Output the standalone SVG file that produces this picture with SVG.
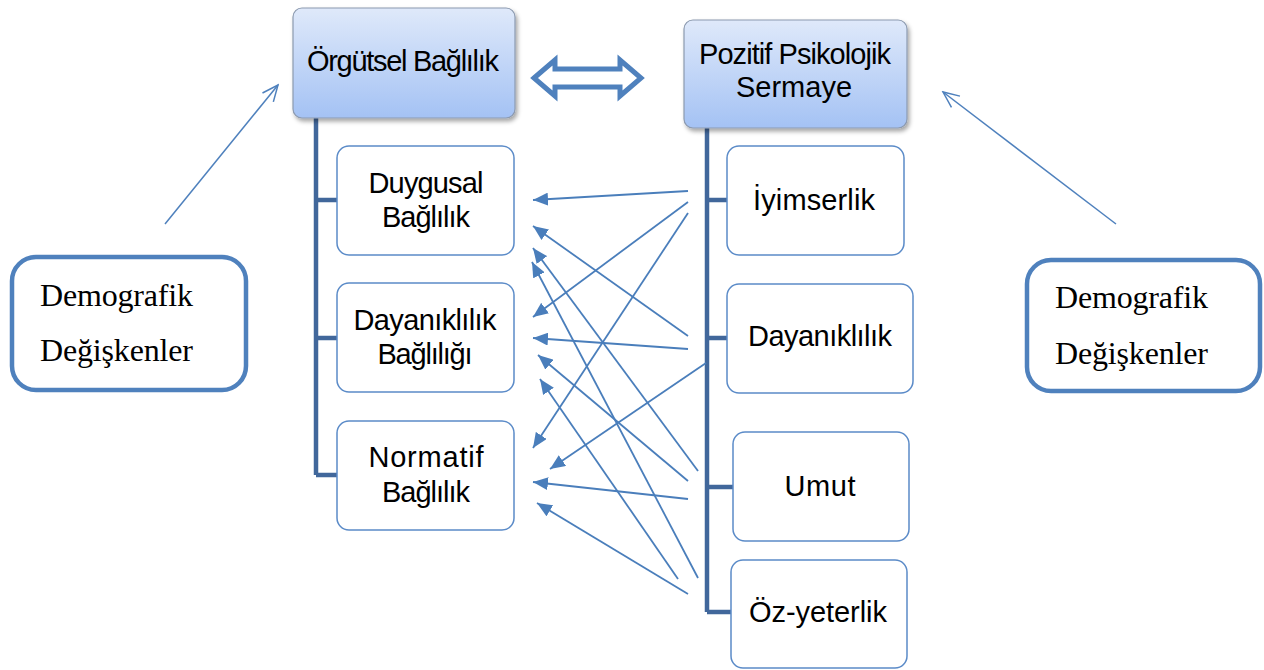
<svg xmlns="http://www.w3.org/2000/svg" width="1264" height="670" viewBox="0 0 1264 670">
<style>
.sans{font-family:"Liberation Sans",Arial,sans-serif;font-size:29px;fill:#000;text-anchor:middle}
.serif{font-family:"Liberation Serif","Times New Roman",serif;font-size:32px;fill:#000}
.child{fill:#fff;stroke:#5b8bc8;stroke-width:1.5}
.top{fill:url(#gTop);stroke:#8c9ab0;stroke-width:1.2}
.demo{fill:#fff;stroke:#4f81bd;stroke-width:4.5}
.tree{stroke:#41679b;stroke-width:4.5;fill:none}
.conn{stroke:#4a7ebb;stroke-width:1.8;fill:none;marker-end:url(#tri)}
.thin{stroke:#4f81bd;stroke-width:1.5;fill:none;marker-end:url(#open)}
</style>
<defs>
<linearGradient id="gTop" x1="0" y1="0" x2="0" y2="1">
<stop offset="0" stop-color="#dfe9fa"/>
<stop offset="1" stop-color="#a4c2f4"/>
</linearGradient>
<filter id="sh" x="-10%" y="-10%" width="125%" height="130%">
<feDropShadow dx="2" dy="3" stdDeviation="2" flood-color="#000" flood-opacity="0.35"/>
</filter>
<marker id="tri" markerUnits="userSpaceOnUse" markerWidth="16" markerHeight="13" refX="15" refY="6.5" orient="auto">
<path d="M0,0 L15,6.5 L0,13 z" fill="#4a7ebb"/>
</marker>
<marker id="open" markerUnits="userSpaceOnUse" markerWidth="20" markerHeight="18" refX="18" refY="9" orient="auto">
<path d="M2,2 L18,9 L2,16" fill="none" stroke="#4f81bd" stroke-width="1.5"/>
</marker>
</defs>

<g id="tree-lines">
<path class="tree" d="M316,118 V475 M316,200 H337 M316,338 H337 M316,475 H337"/>
<path class="tree" d="M707,128 V612 M707,200 H727 M707,338 H727 M707,487 H733 M707,612 H731"/>
</g>

<g id="orgutsel">
<rect class="top" x="293" y="8" width="222" height="110" rx="9" filter="url(#sh)"/>
<text class="sans" x="403" y="71" font-size="27" textLength="192">Örgütsel Bağlılık</text>
</g>
<g id="pozitif">
<rect class="top" x="684" y="20" width="223" height="108" rx="9" filter="url(#sh)"/>
<text class="sans" x="795" y="64" font-size="27" textLength="192">Pozitif Psikolojik</text>
<text class="sans" x="794" y="97" font-size="27">Sermaye</text>
</g>

<g id="duygusal">
<rect class="child" x="337" y="146" width="177" height="109" rx="12"/>
<text class="sans" x="426" y="193" textLength="115">Duygusal</text>
<text class="sans" x="426" y="227" textLength="88">Bağlılık</text>
</g>
<g id="dayaniklilik-b">
<rect class="child" x="337" y="283" width="177" height="109" rx="12"/>
<text class="sans" x="425" y="330" textLength="143">Dayanıklılık</text>
<text class="sans" x="425" y="364" textLength="95">Bağlılığı</text>
</g>
<g id="normatif">
<rect class="child" x="337" y="421" width="177" height="109" rx="12"/>
<text class="sans" x="426" y="467" textLength="115">Normatif</text>
<text class="sans" x="426" y="502" textLength="88">Bağlılık</text>
</g>

<g id="iyimserlik">
<rect class="child" x="727" y="146" width="177" height="109" rx="12"/>
<text class="sans" x="814" y="210" textLength="122">İyimserlik</text>
</g>
<g id="dayaniklilik">
<rect class="child" x="727" y="284" width="186" height="109" rx="12"/>
<text class="sans" x="820" y="346" textLength="144">Dayanıklılık</text>
</g>
<g id="umut">
<rect class="child" x="733" y="432" width="176" height="109" rx="12"/>
<text class="sans" x="820" y="496" textLength="71">Umut</text>
</g>
<g id="ozyeterlik">
<rect class="child" x="731" y="560" width="176" height="108" rx="12"/>
<text class="sans" x="818" y="622" textLength="138">Öz-yeterlik</text>
</g>

<g id="demo-left">
<rect class="demo" x="12" y="257" width="234" height="133" rx="24"/>
<text class="serif" x="40" y="306" textLength="153">Demografik</text>
<text class="serif" x="40" y="361" textLength="153">Değişkenler</text>
</g>
<g id="demo-right">
<rect class="demo" x="1027" y="260" width="233" height="131" rx="24"/>
<text class="serif" x="1055" y="308" textLength="153">Demografik</text>
<text class="serif" x="1055" y="364" textLength="153">Değişkenler</text>
</g>

<g id="connectors">
<polygon points="534,78 555,60 555,69 620,69 620,60 641,78 620,96 620,87 555,87 555,96" fill="#fff" stroke="#4f81bd" stroke-width="5" stroke-linejoin="miter"/>
<line class="thin" x1="165" y1="224" x2="278" y2="85"/>
<line class="thin" x1="1116" y1="224" x2="943" y2="92"/>
<line class="conn" x1="688" y1="191" x2="533" y2="200"/>
<line class="conn" x1="688" y1="202" x2="533" y2="317"/>
<line class="conn" x1="688" y1="213" x2="533" y2="448"/>
<line class="conn" x1="688" y1="336" x2="533" y2="226"/>
<line class="conn" x1="688" y1="349" x2="533" y2="338"/>
<line class="conn" x1="706" y1="363" x2="550" y2="469"/>
<line class="conn" x1="698" y1="471" x2="533" y2="248"/>
<line class="conn" x1="688" y1="481" x2="538" y2="355"/>
<line class="conn" x1="688" y1="499" x2="533" y2="482"/>
<line class="conn" x1="698" y1="578" x2="532" y2="262"/>
<line class="conn" x1="678" y1="579" x2="540" y2="379"/>
<line class="conn" x1="688" y1="594" x2="537" y2="503"/>
</g>
</svg>
